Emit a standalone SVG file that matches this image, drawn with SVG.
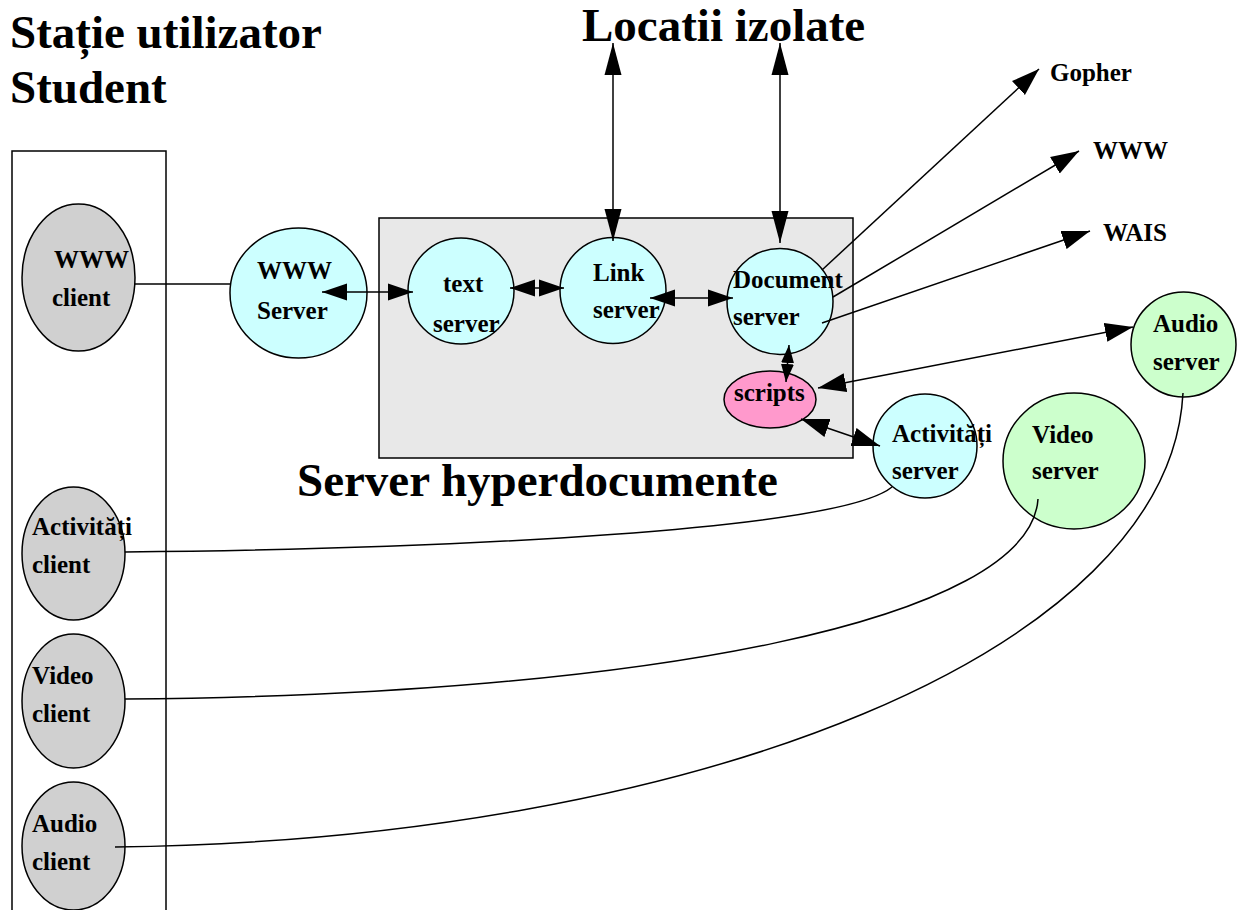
<svg xmlns="http://www.w3.org/2000/svg" width="1242" height="910" viewBox="0 0 1242 910">
<style>
text{font-family:"Liberation Serif","Times New Roman",serif;font-weight:bold;fill:#000}
.t{font-size:47px}
.n{font-size:25px}
.c{stroke:#000;stroke-width:1.5;fill:none}
.cl{fill:#d0d0d0;stroke:#000;stroke-width:1.5}
.cy{fill:#ccffff;stroke:#000;stroke-width:1.5}
.gr{fill:#ccffcc;stroke:#000;stroke-width:1.5}
.pk{fill:#ff99cc;stroke:#000;stroke-width:1.5}
</style>
<defs>
<marker id="ah" markerUnits="userSpaceOnUse" markerWidth="28" markerHeight="20" viewBox="0 -10 28 20" refX="28" refY="0" orient="auto-start-reverse"><path d="M0,-9.5 L28,0 L0,9.5 z" fill="#000"/></marker>
<marker id="ahM" markerUnits="userSpaceOnUse" markerWidth="25" markerHeight="18" viewBox="0 -9 25 18" refX="25" refY="0" orient="auto-start-reverse"><path d="M0,-8.5 L25,0 L0,8.5 z" fill="#000"/></marker>
<marker id="ahL" markerUnits="userSpaceOnUse" markerWidth="32" markerHeight="18" viewBox="0 -9 32 18" refX="32" refY="0" orient="auto-start-reverse"><path d="M0,-8.5 L32,0 L0,8.5 z" fill="#000"/></marker>
<marker id="ahS" markerUnits="userSpaceOnUse" markerWidth="18" markerHeight="14" viewBox="0 -7 18 14" refX="18" refY="0" orient="auto-start-reverse"><path d="M0,-6.5 L18,0 L0,6.5 z" fill="#000"/></marker>
</defs>
<rect width="1242" height="910" fill="#fff"/>
<g id="titles">
<text class="t" x="10" y="48">Stație utilizator</text>
<text class="t" x="10" y="103">Student</text>
<text class="t" x="582" y="41">Locatii izolate</text>
<text class="t" x="297" y="496">Server hyperdocumente</text>
</g>
<g id="statie"><rect x="12" y="151" width="154" height="800" fill="none" stroke="#000" stroke-width="1.5"/></g>
<g id="server-box"><rect x="379" y="218" width="474" height="240" fill="#e8e8e8" stroke="#000" stroke-width="1.5"/></g>
<g id="www-client"><ellipse class="cl" cx="78.5" cy="277.5" rx="56.5" ry="73.5"/><text class="n" x="54" y="268">WWW</text><text class="n" x="52" y="306">client</text></g>
<g id="activitati-client"><ellipse class="cl" cx="73.5" cy="553.5" rx="51.5" ry="66.5"/><text class="n" x="32" y="535">Activități</text><text class="n" x="32" y="573">client</text></g>
<g id="video-client"><ellipse class="cl" cx="73.5" cy="701" rx="51.5" ry="67"/><text class="n" x="32" y="684">Video</text><text class="n" x="32" y="722">client</text></g>
<g id="audio-client"><ellipse class="cl" cx="73.5" cy="846" rx="51.5" ry="64"/><text class="n" x="32" y="832">Audio</text><text class="n" x="32" y="870">client</text></g>
<g id="www-server"><ellipse class="cy" cx="298.5" cy="293" rx="68.5" ry="65"/><text class="n" x="257" y="279">WWW</text><text class="n" x="257" y="319">Server</text></g>
<g id="text-server"><circle class="cy" cx="461" cy="291" r="53"/><text class="n" x="443" y="292">text</text><text class="n" x="433" y="332">server</text></g>
<g id="link-server"><circle class="cy" cx="613" cy="290.5" r="53"/><text class="n" x="593" y="281">Link</text><text class="n" x="593" y="318">server</text></g>
<g id="document-server"><circle class="cy" cx="780" cy="301.5" r="53"/><text class="n" x="733" y="288">Document</text><text class="n" x="733" y="325">server</text></g>
<g id="scripts"><ellipse class="pk" cx="770" cy="399.5" rx="46" ry="28.5"/><text class="n" x="734" y="401">scripts</text></g>
<g id="activitati-server"><circle class="cy" cx="925" cy="446" r="52"/><text class="n" x="892" y="442">Activități</text><text class="n" x="892" y="479">server</text></g>
<g id="video-server"><ellipse class="gr" cx="1074" cy="461" rx="71" ry="68"/><text class="n" x="1032" y="443">Video</text><text class="n" x="1032" y="479">server</text></g>
<g id="audio-server"><circle class="gr" cx="1183.5" cy="344.5" r="52.5"/><text class="n" x="1153" y="332">Audio</text><text class="n" x="1153" y="370">server</text></g>
<g id="gopher"><text class="n" x="1050" y="81">Gopher</text></g>
<g id="www"><text class="n" x="1093" y="159">WWW</text></g>
<g id="wais"><text class="n" x="1103" y="241">WAIS</text></g>
<g id="connectors">
<line class="c" x1="135" y1="284" x2="230" y2="284"/>
<line class="c" x1="322" y1="292" x2="413" y2="292" marker-start="url(#ahM)" marker-end="url(#ahM)"/>
<line class="c" x1="510" y1="288" x2="564" y2="288" marker-start="url(#ahM)" marker-end="url(#ahM)"/>
<line class="c" x1="650" y1="298" x2="733" y2="298" marker-start="url(#ahM)" marker-end="url(#ahM)"/>
<line class="c" x1="789" y1="345" x2="786" y2="382" marker-start="url(#ahS)" marker-end="url(#ahS)"/>
<line class="c" x1="613" y1="43" x2="613" y2="241" marker-start="url(#ahL)" marker-end="url(#ahL)"/>
<line class="c" x1="780" y1="43" x2="780" y2="243" marker-start="url(#ahL)" marker-end="url(#ahL)"/>
<line class="c" x1="822" y1="270" x2="1039" y2="69" marker-end="url(#ah)"/>
<line class="c" x1="833" y1="297" x2="1079" y2="151" marker-end="url(#ah)"/>
<line class="c" x1="822" y1="323" x2="1090" y2="231" marker-end="url(#ah)"/>
<line class="c" x1="818" y1="388" x2="1133" y2="327" marker-start="url(#ah)" marker-end="url(#ah)"/>
<line class="c" x1="801" y1="419" x2="880" y2="446" marker-start="url(#ah)" marker-end="url(#ah)"/>
<path class="c" d="M125,552 C450,549 840,530 892,487"/>
<path class="c" d="M125,699 C650,695 1030,620 1038,499"/>
<path class="c" d="M115,847 C700,840 1170,650 1183,393"/>
</g>
</svg>
